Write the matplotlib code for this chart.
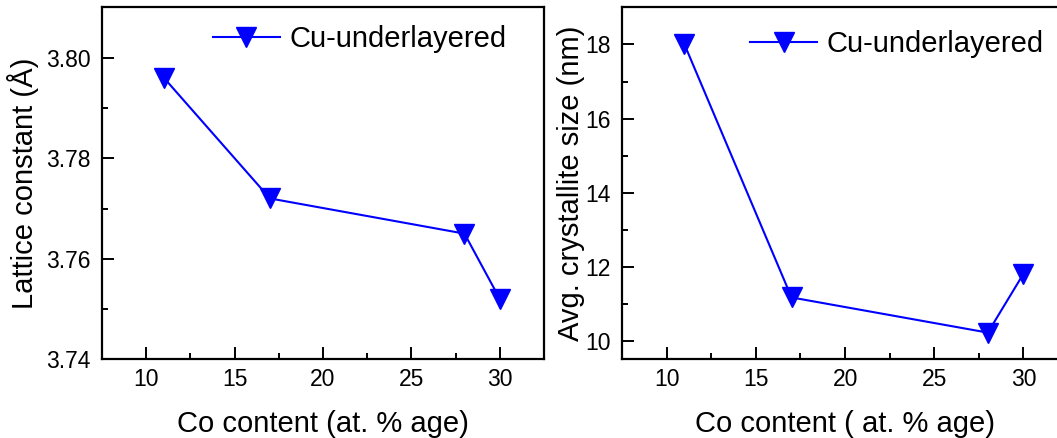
import numpy as np
import matplotlib
matplotlib.use("Agg")
import matplotlib.pyplot as plt
from matplotlib.ticker import MultipleLocator

plt.rcParams['font.family'] = ['Liberation Sans', 'DejaVu Sans']

# data
co_content = [11, 17, 28, 30]
lattice_const = [3.796, 3.772, 3.765, 3.752]
crystallite_size = [18.0, 11.17, 10.22, 11.81]
series_label = 'Cu-underlayered'

fig = plt.figure(figsize=(10.57, 4.38), dpi=100)
ax1 = fig.add_axes([0.0965, 0.1797, 0.4182, 0.8033])
ax2 = fig.add_axes([0.5885, 0.1797, 0.4220, 0.8033])


def style_axis(ax):
    for s in ax.spines.values():
        s.set_linewidth(1.6)
    ax.tick_params(which='both', direction='in', width=1.4, labelsize=16.5)
    ax.tick_params(which='major', length=8.5)
    ax.tick_params(axis='x', which='major', pad=6)
    ax.tick_params(axis='y', which='major', pad=8)
    ax.tick_params(which='minor', length=4.5)
    ax.xaxis.set_major_locator(MultipleLocator(5))
    ax.xaxis.set_minor_locator(MultipleLocator(2.5))
    ax.set_xlim(7.5, 32.5)


# left panel
ax1.plot(co_content, lattice_const, color='#0000ff', lw=1.5, marker='v',
         ms=15, label=series_label)
style_axis(ax1)
ax1.set_ylim(3.74, 3.81)
ax1.yaxis.set_major_locator(MultipleLocator(0.02))
ax1.yaxis.set_minor_locator(MultipleLocator(0.01))
ax1.yaxis.set_major_formatter(matplotlib.ticker.FormatStrFormatter('%.2f'))
ax1.set_ylabel('Lattice constant (Å)', fontsize=21, labelpad=5)
ax1.set_xlabel('Co content (at. % age)', fontsize=21, labelpad=14)
ax1.legend(loc='center left', bbox_to_anchor=(0.251, 0.909), frameon=False,
           fontsize=21, handlelength=2.3, handletextpad=0.33,
           borderpad=0, borderaxespad=0)

# right panel
ax2.plot(co_content, crystallite_size, color='#0000ff', lw=1.5, marker='v',
         ms=15, label=series_label)
style_axis(ax2)
ax2.set_ylim(9.5, 19)
ax2.yaxis.set_major_locator(MultipleLocator(2))
ax2.yaxis.set_minor_locator(MultipleLocator(1))
ax2.set_ylabel('Avg. crystallite size (nm)', fontsize=21, labelpad=0)
ax2.set_xlabel('Co content ( at. % age)', fontsize=21, labelpad=14)
ax2.legend(loc='center left', bbox_to_anchor=(0.287, 0.895), frameon=False,
           fontsize=21, handlelength=2.3, handletextpad=0.33,
           borderpad=0, borderaxespad=0)

fig.savefig('out.png', dpi=100)
